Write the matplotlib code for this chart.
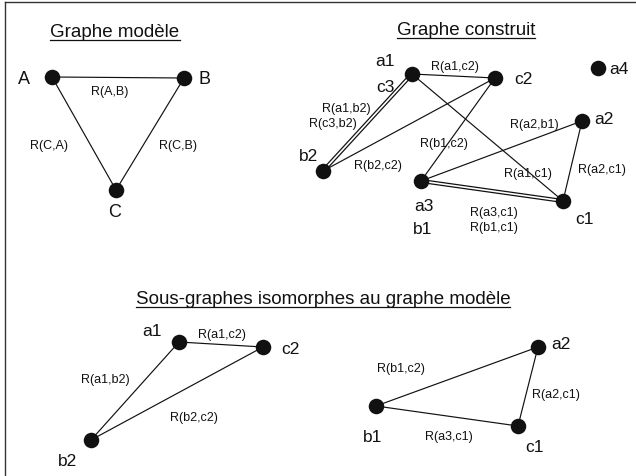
import matplotlib.pyplot as plt

# graphe modèle
model_nodes = ['A', 'B', 'C']
model_x = [52, 184, 116]
model_y = [78, 79, 191]
model_edges = [('A', 'B'), ('C', 'A'), ('C', 'B')]
model_edge_text = ['R(A,B)', 'R(C,A)', 'R(C,B)']
model_edge_tx = [110, 49, 178]
model_edge_ty = [92, 146, 146]
model_label_tx = [24, 205, 115]
model_label_ty = [80, 80, 213]

# graphe construit
built_nodes = ['a1', 'c2', 'a4', 'a2', 'b2', 'a3', 'c1']
built_x = [412, 495, 598, 582, 323, 421, 563]
built_y = [75, 79, 69, 122, 172, 182, 202]
built_single = [('a1', 'c2'), ('b2', 'c2'), ('a1', 'c1'), ('c2', 'a3'),
                ('a3', 'a2'), ('a2', 'c1')]
built_double = [('a1', 'b2'), ('a3', 'c1')]
built_label_text = ['a1', 'c3', 'c2', 'a4', 'a2', 'b2', 'a3', 'b1', 'c1']
built_label_tx = [385, 385, 523, 619, 604, 309, 424, 423, 585]
built_label_ty = [62, 87, 79, 70, 120, 157, 207, 230, 220]
built_edge_text = ['R(a1,c2)', 'R(a1,b2)', 'R(c3,b2)', 'R(b1,c2)', 'R(b2,c2)',
                   'R(a2,b1)', 'R(a1,c1)', 'R(a2,c1)', 'R(a3,c1)', 'R(b1,c1)']
built_edge_tx = [455, 346, 333, 444, 378, 534, 528, 602, 494, 494]
built_edge_ty = [67, 109, 124, 144, 166, 125, 174, 170, 213, 228]

# sous-graphe 1
sub1_nodes = ['a1', 'c2', 'b2']
sub1_x = [179, 263, 91]
sub1_y = [343, 348, 441]
sub1_edges = [('a1', 'c2'), ('a1', 'b2'), ('b2', 'c2')]
sub1_edge_text = ['R(a1,c2)', 'R(a1,b2)', 'R(b2,c2)']
sub1_edge_tx = [222, 105, 194]
sub1_edge_ty = [335, 380, 418]
sub1_label_tx = [152, 290, 68]
sub1_label_ty = [332, 350, 462]

# sous-graphe 2
sub2_nodes = ['a2', 'b1', 'c1']
sub2_x = [538, 376, 518]
sub2_y = [348, 407, 427]
sub2_edges = [('b1', 'a2'), ('a2', 'c1'), ('b1', 'c1')]
sub2_edge_text = ['R(b1,c2)', 'R(a2,c1)', 'R(a3,c1)']
sub2_edge_tx = [401, 556, 449]
sub2_edge_ty = [369, 395, 437]
sub2_label_tx = [561, 373, 535]
sub2_label_ty = [345, 438, 448]

titles = ['Graphe modèle', 'Graphe construit',
          'Sous-graphes isomorphes au graphe modèle']
title_x = [115, 466, 323]
title_y = [37, 35, 304]

INK = '#111111'
FONT = 'Liberation Sans'

fig = plt.figure(figsize=(6.36, 4.77), dpi=100)
ax = fig.add_axes([0, 0, 1, 1])
ax.set_xlim(0, 636)
ax.set_ylim(477, 0)
ax.axis('off')


def draw_graph(names, xs, ys, edges, double=()):
    pos = dict(zip(names, zip(xs, ys)))
    for u, v in edges:
        ax.plot([pos[u][0], pos[v][0]], [pos[u][1], pos[v][1]],
                color=INK, lw=0.85, zorder=1)
    for u, v in double:
        ax.plot([pos[u][0], pos[v][0]], [pos[u][1], pos[v][1]],
                color=INK, lw=3.0, zorder=1, solid_capstyle='butt')
        ax.plot([pos[u][0], pos[v][0]], [pos[u][1], pos[v][1]],
                color='white', lw=1.2, zorder=2, solid_capstyle='butt')
    ax.scatter(xs, ys, s=125, color=INK, zorder=3, linewidths=0)


def put_texts(texts, xs, ys, size):
    for t, x, y in zip(texts, xs, ys):
        ax.text(x, y, t, ha='center', va='center', fontsize=size,
                family=FONT, color=INK)


draw_graph(model_nodes, model_x, model_y, model_edges)
put_texts(model_nodes, model_label_tx, model_label_ty, 13)
put_texts(model_edge_text, model_edge_tx, model_edge_ty, 9)

draw_graph(built_nodes, built_x, built_y, built_single, built_double)
put_texts(built_label_text, built_label_tx, built_label_ty, 12.5)
put_texts(built_edge_text, built_edge_tx, built_edge_ty, 9)

draw_graph(sub1_nodes, sub1_x, sub1_y, sub1_edges)
put_texts(sub1_nodes, sub1_label_tx, sub1_label_ty, 12.5)
put_texts(sub1_edge_text, sub1_edge_tx, sub1_edge_ty, 9)

draw_graph(sub2_nodes, sub2_x, sub2_y, sub2_edges)
put_texts(sub2_nodes, sub2_label_tx, sub2_label_ty, 12.5)
put_texts(sub2_edge_text, sub2_edge_tx, sub2_edge_ty, 9)

# titres soulignés
title_objs = []
for t, x, y in zip(titles, title_x, title_y):
    title_objs.append(ax.text(x, y, t, ha='center', va='baseline',
                              fontsize=13.5, family=FONT, color=INK))
fig.canvas.draw()
inv = ax.transData.inverted()
for obj, y in zip(title_objs, title_y):
    bb = obj.get_window_extent()
    x0 = inv.transform((bb.x0, 0))[0]
    x1 = inv.transform((bb.x1, 0))[0]
    ax.plot([x0, x1], [y + 3.5, y + 3.5], color=INK, lw=0.9)

# cadre (haut et gauche)
ax.plot([5, 636], [3, 3], color='#333333', lw=1.0)
ax.plot([5, 5], [3, 477], color='#333333', lw=1.0)

fig.savefig('out.png', dpi=100)
